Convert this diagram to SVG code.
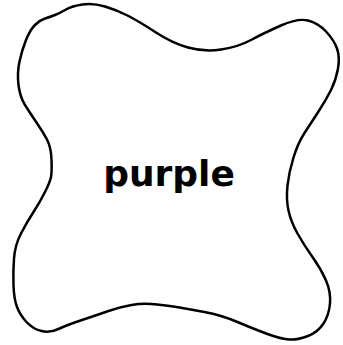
<svg xmlns="http://www.w3.org/2000/svg" width="343" height="345" viewBox="0 0 343 345">
<style>
.blob{fill:#fff;stroke:#000;stroke-width:2.5;stroke-linejoin:round}
.lbl{font-family:"DejaVu Sans",Verdana,sans-serif;font-weight:bold;font-size:36px;fill:#000;text-anchor:middle}
</style>
<rect width="343" height="345" fill="#fff"/>
<g id="node-purple">
<path class="blob" d="M105,6.5 Q117,10 128.5,16 Q140,22 156,32.5 Q172,43 188,47.5 Q204,52 221,49.5 Q238,47 251,40 Q264,33 281,25.5 Q298,18 308,20.5 Q318,23 326,31.5 Q334,40 337,48.5 Q340,57 338,68.5 Q336,80 331,90 Q326,100 318.5,111.5 Q311,123 304.5,133 Q298,143 293.5,157.5 Q289,172 287.5,185.5 Q286,199 288.5,210.5 Q291,222 297.5,233.5 Q304,245 312.5,257 Q321,269 326,280.5 Q331,292 330,303.5 Q329,315 323.5,323.5 Q318,332 308,336 Q298,340 289.5,339.5 Q281,339 267.5,334 Q254,329 237.5,322 Q221,315 204.5,312 Q188,309 179.5,307.5 Q171,306 157,304.5 Q143,303 131.5,305 Q120,307 108.5,311 Q97,315 82,320 Q67,325 58.5,329 Q50,333 41.5,331 Q33,329 26.5,322 Q20,315 17,307 Q14,299 13.5,285.5 Q13,272 14,258.5 Q15,245 21,233.5 Q27,222 33.5,212 Q40,202 45,192 Q50,182 51,177 Q52,172 51.5,159.5 Q51,147 47,139.5 Q43,132 36.5,122.5 Q30,113 25,105 Q20,97 18.5,85 Q17,73 19.5,61.5 Q22,50 26,40 Q30,30 35,25 Q40,20 45,18.5 Q50,17 55,15 Q60,13 66,9.5 Q72,6 82.5,4.5 Q93,3 105,6.5 Z"/>
<text class="lbl" x="169" y="186">purple</text>
</g>
</svg>
